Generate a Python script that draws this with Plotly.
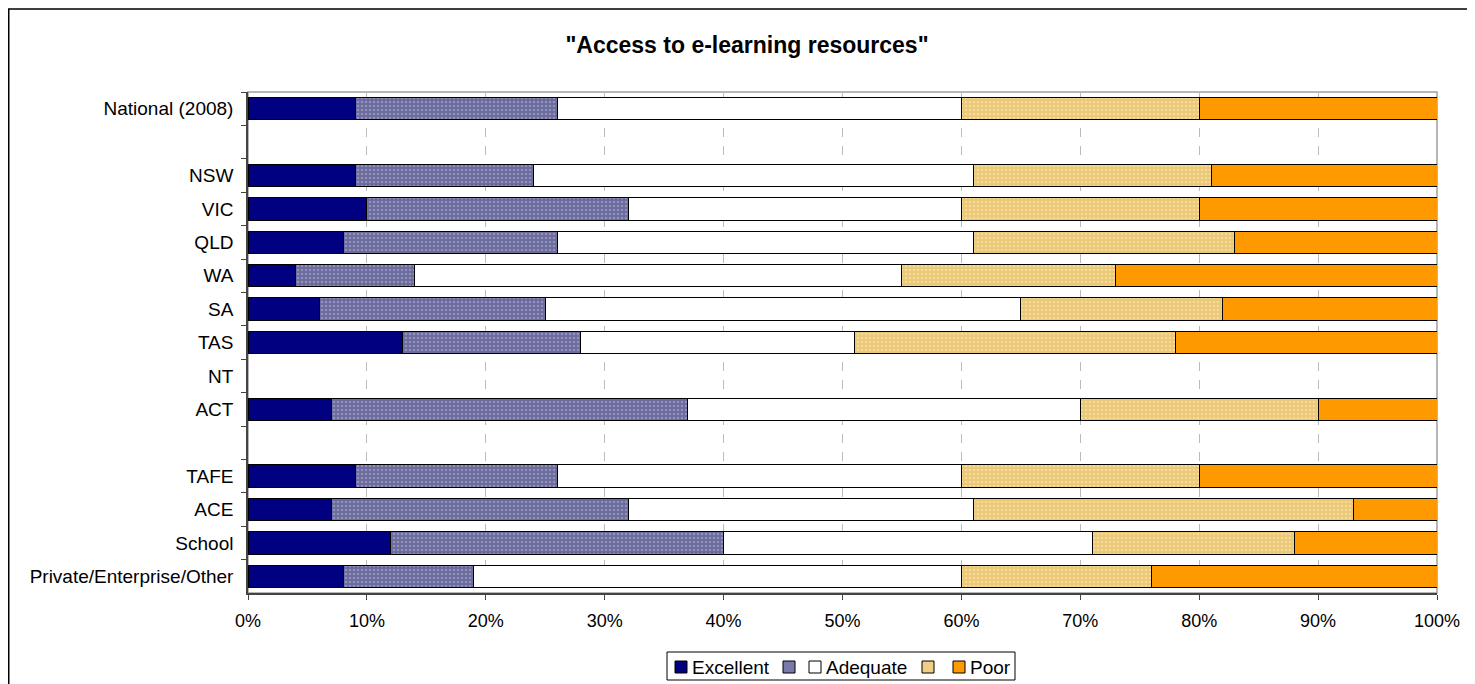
import plotly.graph_objects as go

categories = ["National (2008)", " ", "NSW", "VIC", "QLD", "WA", "SA", "TAS", "NT", "ACT",
              "  ", "TAFE", "ACE", "School", "Private/Enterprise/Other"]

excellent = [9, None, 9, 10, 8, 4, 6, 13, None, 7, None, 9, 7, 12, 8]
good = [17, None, 15, 22, 18, 10, 19, 15, None, 30, None, 17, 25, 28, 11]
adequate = [34, None, 37, 28, 35, 41, 40, 23, None, 33, None, 34, 29, 31, 41]
fair = [20, None, 20, 20, 22, 18, 17, 27, None, 20, None, 20, 32, 17, 16]
poor = [20, None, 19, 20, 17, 27, 18, 22, None, 10, None, 20, 7, 12, 24]

series_names = ["Excellent", "", "Adequate", "", "Poor"]
series_values = [excellent, good, adequate, fair, poor]

fill_colors = ["#000080", "#7A7AAA", "#FFFFFF", "#EFCF86", "#FF9900"]
patterns = [
    None,
    dict(shape=".", fgcolor="#B8B8D8", bgcolor="#6A6A9C", size=4, solidity=0.35),
    None,
    dict(shape=".", fgcolor="#FFEDB5", bgcolor="#EAC878", size=4, solidity=0.35),
    None,
]

W, H = 1467, 676  # page adds an 8px body margin
ML, MR, MT, MB = 240, 38, 84, 91
PW, PH = W - ML - MR, H - MT - MB


def px_to_paper_x(px):
    return (px - 8 - ML) / PW


def px_to_paper_y(py):
    return (H - MB - (py - 8)) / PH


fig = go.Figure()
for name, vals, col, pat in zip(series_names, series_values, fill_colors, patterns):
    marker = dict(color=col, line=dict(color="#000000", width=1))
    if pat:
        marker["pattern"] = pat
    fig.add_trace(go.Bar(
        y=categories,
        x=[None if v is None else v / 100 for v in vals],
        name=name,
        orientation="h",
        width=0.667,
        marker=marker,
        showlegend=False,
        hoverinfo="x+y",
    ))

fig.update_layout(
    barmode="stack",
    width=W, height=H,
    paper_bgcolor="white", plot_bgcolor="white",
    margin=dict(l=ML, r=MR, t=MT, b=MB, autoexpand=False),
    font=dict(family="Liberation Sans, Arial, sans-serif", size=19, color="#000000"),
    title=dict(text='<b>"Access to e-learning resources"</b>', x=(747 - 8) / W, xref="container",
               xanchor="center", y=1 - (45 - 8) / H, yref="container", yanchor="middle",
               font=dict(size=23, color="#000000")),
    showlegend=False,
    bargap=0.333,
)

fig.update_xaxes(range=[0, 1], dtick=0.1, tickformat=".0%", showgrid=True,
                 gridcolor="#BBBBBB", griddash="dash", gridwidth=1,
                 showline=True, linecolor="#444444", linewidth=1.5,
                 ticks="outside", ticklen=5, tickcolor="#444444",
                 tickfont=dict(size=18), ticklabelstandoff=6,
                 zeroline=False, fixedrange=True)
fig.update_yaxes(type="category", categoryorder="array", categoryarray=categories,
                 autorange="reversed", showgrid=False,
                 showline=True, linecolor="#444444", linewidth=1.5,
                 ticks="outside", ticklen=5, tickcolor="#444444",
                 ticklabelstandoff=9,
                 tickson="boundaries", fixedrange=True)

# plot area border (grey) and outer chart border
fig.add_shape(type="rect", xref="paper", yref="paper", x0=0, x1=1, y0=0, y1=1,
              line=dict(color="#A0A0A0", width=1.5), layer="below")
fig.add_shape(type="rect", xref="paper", yref="paper",
              x0=px_to_paper_x(8.75), x1=1.05, y0=-0.3, y1=px_to_paper_y(9),
              line=dict(color="#000000", width=1.5), layer="below")

# legend box drawn in Excel style
fig.add_shape(type="rect", xref="paper", yref="paper",
              x0=px_to_paper_x(667), x1=px_to_paper_x(1015),
              y0=px_to_paper_y(680), y1=px_to_paper_y(652),
              line=dict(color="#000000", width=1), fillcolor="white")
swatch_left_px = [675, 783, 809, 922, 953]
sw = 12
ymid = 667
for name, col, x0 in zip(series_names, fill_colors, swatch_left_px):
    fig.add_shape(type="rect", xref="paper", yref="paper",
                  x0=px_to_paper_x(x0), x1=px_to_paper_x(x0 + sw),
                  y0=px_to_paper_y(ymid + sw / 2), y1=px_to_paper_y(ymid - sw / 2),
                  line=dict(color="#000000", width=1), fillcolor=col)
    if name:
        fig.add_annotation(xref="paper", yref="paper", x=px_to_paper_x(x0 + sw + 3),
                           y=px_to_paper_y(ymid), text=name, showarrow=False,
                           xanchor="left", yanchor="middle", font=dict(size=19))

fig.write_html("out.html")
